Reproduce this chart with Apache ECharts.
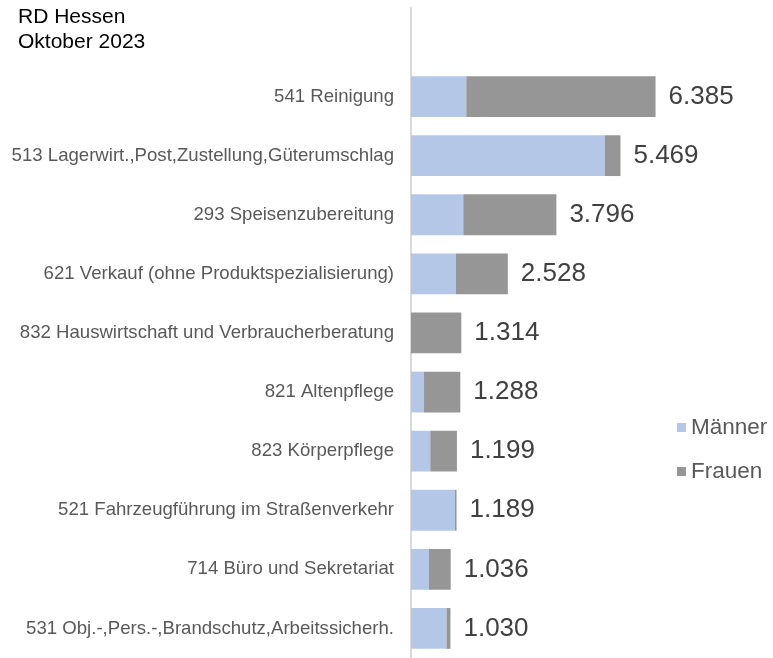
<!DOCTYPE html>
<html>
<head>
<meta charset="utf-8">
<script src="https://cdn.jsdelivr.net/npm/echarts@6/dist/echarts.min.js"></script>
<style>
html,body{margin:0;padding:0;background:#fff;}
#chart{width:773px;height:658px;}
</style>
</head>
<body>
<div id="chart"></div>
<script>
var titleLines = ['RD Hessen', 'Oktober 2023'];
var categories = [
  '541 Reinigung',
  '513 Lagerwirt.,Post,Zustellung,Güterumschlag',
  '293 Speisenzubereitung',
  '621 Verkauf (ohne Produktspezialisierung)',
  '832 Hauswirtschaft und Verbraucherberatung',
  '821 Altenpflege',
  '823 Körperpflege',
  '521 Fahrzeugführung im Straßenverkehr',
  '714 Büro und Sekretariat',
  '531 Obj.-,Pers.-,Brandschutz,Arbeitssicherh.'
];
var seriesNames = ['Männer', 'Frauen'];
var maenner = [1444, 5057, 1366, 1175, 0, 340, 504, 1145, 470, 926];
var frauen  = [4941, 412, 2430, 1353, 1314, 948, 695, 44, 566, 104];
var totals  = [6385, 5469, 3796, 2528, 1314, 1288, 1199, 1189, 1036, 1030];

function fmt(v){
  return String(v).replace(/\B(?=(\d{3})+(?!\d))/g, '.');
}

var chart = echarts.init(document.getElementById('chart'), null, {renderer:'canvas'});
var FONT = 'Liberation Sans, Arial, sans-serif';
chart.setOption({
  animation: false,
  backgroundColor: '#ffffff',
  title: {
    text: titleLines.join('\n'),
    left: 13, top: 0,
    textStyle: {fontFamily: FONT, fontSize: 21, fontWeight: 'normal', color: '#000000', lineHeight: 25}
  },
  legend: {
    data: seriesNames,
    orient: 'vertical',
    left: 677, top: 416,
    padding: 0,
    itemWidth: 9, itemHeight: 9,
    itemGap: 21,
    icon: 'rect',
    textStyle: {fontFamily: FONT, fontSize: 22.5, color: '#595959'}
  },
  grid: {left: 411, top: 67, width: 306.4, height: 595},
  xAxis: {
    type: 'value', min: 0, max: 8000, show: false
  },
  yAxis: {
    type: 'category', data: categories, inverse: true,
    axisLine: {show: false}, axisTick: {show: false},
    axisLabel: {fontFamily: FONT, fontSize: 18.6, color: '#595959', margin: 17}
  },
  graphic: [{
    type: 'line', silent: true,
    shape: {x1: 411, y1: 7, x2: 411, y2: 658},
    style: {stroke: '#d9d9d9', lineWidth: 2}
  }],
  series: [
    {
      name: seriesNames[0], type: 'bar', stack: 'total', data: maenner,
      barCategoryGap: '31%',
      itemStyle: {color: '#b4c7e7'}
    },
    {
      name: seriesNames[1], type: 'bar', stack: 'total', data: frauen,
      itemStyle: {color: '#969696'}
    },
    {
      name: 'Summe', type: 'bar', data: totals, barGap: '-100%', silent: true,
      itemStyle: {color: 'rgba(0,0,0,0)'},
      label: {
        show: true, position: 'right', distance: 13,
        formatter: function(p){ return fmt(p.value); },
        fontFamily: FONT, fontSize: 26, color: '#404040', padding: [4, 0, 0, 0]
      }
    }
  ]
});
</script>
</body>
</html>
